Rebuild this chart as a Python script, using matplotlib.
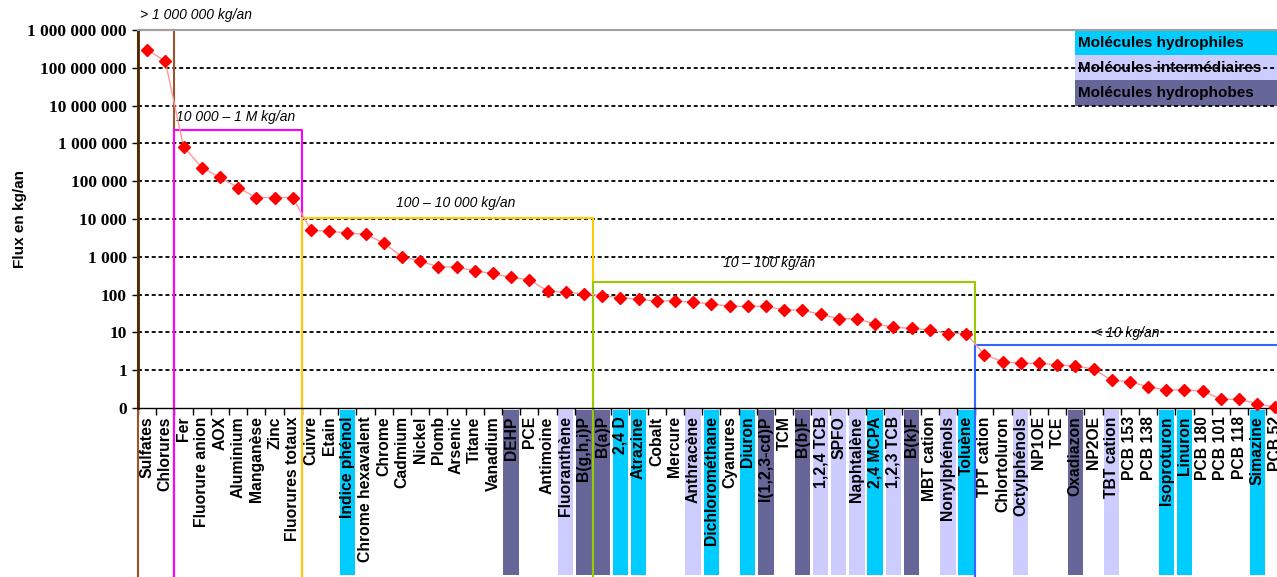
import matplotlib
matplotlib.use("Agg")
from matplotlib import pyplot as plt
from matplotlib.patches import Rectangle
from matplotlib.ticker import NullLocator
import numpy as np

substances = ['Sulfates', 'Chlorures', 'Fer', 'Fluorure anion', 'AOX', 'Aluminium', 'Manganèse', 'Zinc',
              'Fluorures totaux', 'Cuivre', 'Etain', 'Indice phénol', 'Chrome hexavalent', 'Chrome', 'Cadmium',
              'Nickel', 'Plomb', 'Arsenic', 'Titane', 'Vanadium', 'DEHP', 'PCE', 'Antimoine', 'Fluoranthène',
              'B(g,h,i)P', 'B(a)P', '2,4 D', 'Atrazine', 'Cobalt', 'Mercure', 'Anthracène', 'Dichlorométhane',
              'Cyanures', 'Diuron', 'I(1,2,3-cd)P', 'TCM', 'B(b)F', '1,2,4 TCB', 'SPFO', 'Naphtalène', '2,4 MCPA',
              '1,2,3 TCB', 'B(k)F', 'MBT cation', 'Nonylphénols', 'Toluène', 'TPT cation', 'Chlortoluron',
              'Octylphénols', 'NP1OE', 'TCE', 'Oxadiazon', 'NP2OE', 'TBT cation', 'PCB 153', 'PCB 138',
              'Isoproturon', 'Linuron', 'PCB 180', 'PCB 101', 'PCB 118', 'Simazine', 'PCB 52']
flux = [3.0e8, 1.5e8, 8.2e5, 2.3e5, 1.26e5, 6.8e4, 3.7e4, 3.7e4, 3.7e4,
        5.1e3, 4.7e3, 4.3e3, 3.9e3, 2.35e3, 1000, 780, 540, 540, 425, 362, 284, 250, 125, 114, 106,
        94, 83, 75, 68, 68, 63, 57, 49, 49, 49, 39, 39, 30, 23, 23, 16.6, 13.8, 12.7, 11.7, 9.3, 9.3,
        2.6, 1.68, 1.52, 1.52, 1.39, 1.28, 1.08, 0.54, 0.5, 0.36, 0.3, 0.3, 0.28, 0.17, 0.17, 0.13, 0.104]

hydrophiles = ['Indice phénol', '2,4 D', 'Atrazine', 'Dichlorométhane', 'Diuron', '2,4 MCPA', 'Toluène',
               'Isoproturon', 'Linuron', 'Simazine']
intermediaires = ['Fluoranthène', 'Anthracène', '1,2,4 TCB', 'SPFO', 'Naphtalène', '1,2,3 TCB', 'Nonylphénols',
                  'Octylphénols', 'TBT cation']
hydrophobes = ['DEHP', 'B(g,h,i)P', 'B(a)P', 'I(1,2,3-cd)P', 'B(b)F', 'B(k)F', 'Oxadiazon']
legend_labels = ['Molécules hydrophiles', 'Molécules intermédiaires', 'Molécules hydrophobes']

# flux classes: label, first / last substance, upper bound
classes = ['> 1 000 000 kg/an', '10 000 – 1 M kg/an', '100 – 10 000 kg/an', '10 – 100 kg/an', '< 10 kg/an']
class_first = [0, 2, 9, 25, 46]
class_last = [1, 8, 24, 45, 62]
class_top = [1e9, 2.2e6, 1.05e4, 221, 4.7]

yticks = [0.1, 1, 10, 100, 1000, 1e4, 1e5, 1e6, 1e7, 1e8, 1e9]
ytick_labels = ['0', '1', '10', '100', '1 000', '10 000', '100 000', '1 000 000', '10 000 000',
                '100 000 000', '1 000 000 000']

class_colors = ['#A0522D', '#FF00FF', '#FFCC00', '#99CC00', '#3366FF']
group_colors = ['#00CCFF', '#CCCCFF', '#666699']

W, H = 1277, 577
fig = plt.figure(figsize=(W / 100, H / 100), dpi=100)
ax = fig.add_axes([138 / W, 169 / H, 1146.6 / W, 378 / H])
ax.set_yscale('log')
ax.set_ylim(0.1, 1e9)
ax.set_xlim(-0.5, len(substances) - 0.5)

ax.set_yticks(yticks)
ax.set_yticklabels(ytick_labels, family='Liberation Serif', fontweight='bold', fontsize=12.5)
ax.yaxis.set_minor_locator(NullLocator())
ax.tick_params(axis='y', length=4, width=1, pad=4)

x = np.arange(len(substances))
ax.set_xticks(x)
ax.set_xticklabels(substances, rotation=90, family='Liberation Sans', fontweight='bold', fontsize=11.3)
ax.set_xticks(np.arange(-0.5, len(substances), 1), minor=True)
ax.tick_params(axis='x', which='major', length=0, pad=6)
ax.tick_params(axis='x', which='minor', length=5, width=1)

ax.set_ylabel('Flux en kg/an', family='Liberation Sans', fontweight='bold', fontsize=11)
ax.yaxis.set_label_coords(-0.097, 0.5)

ax.spines['right'].set_visible(False)
ax.spines['top'].set_color('#A0A0A0')
ax.spines['top'].set_linewidth(1.5)
ax.spines['left'].set_color('#4D2600')
ax.spines['left'].set_linewidth(2)
ax.spines['bottom'].set_linewidth(1)

# dashed decade lines
for k in range(0, 9):
    ax.axhline(10 ** k, color='black', lw=1.3, ls=(0, (2.2, 1.6)), zorder=1)

# coloured backgrounds behind substance names
trans = ax.get_xaxis_transform()
for i, name in enumerate(substances):
    for group, col in zip([hydrophiles, intermediaires, hydrophobes], group_colors):
        if name in group:
            ax.add_patch(Rectangle((i - 0.42, -0.442), 0.84, 0.437, transform=trans, clip_on=False,
                                   facecolor=col, edgecolor='none', zorder=0))

# legend boxes in the upper right corner
row_h = 0.0667
for j, (lab, col) in enumerate(zip(legend_labels, group_colors)):
    y0 = 1 - (j + 1) * row_h
    ax.add_patch(Rectangle((0.817, y0), 0.2, row_h, transform=ax.transAxes, clip_on=False,
                           facecolor=col, edgecolor='none', zorder=0.5))
    ax.text(0.8195, y0 + row_h / 2, lab, transform=ax.transAxes, va='center', ha='left',
            family='Liberation Sans', fontweight='bold', fontsize=11, zorder=0.6)

# class frames, their sides run down past the names
lmin, lmax = np.log10(0.1), np.log10(1e9)
bottom = -169 / 378
text_x = [-0.39, 1.59, 16.97, 34.17, 53.84]
text_ha = ['left', 'left', 'center', 'center', 'center']
text_dy = [15, 13, 15, 19, 12]
for lab, a, b, top, col, tx, ha, dy in zip(classes, class_first, class_last, class_top, class_colors,
                                            text_x, text_ha, text_dy):
    t = (np.log10(top) - lmin) / (lmax - lmin)
    x0, x1 = a - 0.5, b + 0.5
    ax.plot([x0, x0, x1, x1], [bottom, t, t, bottom], color=col, lw=1.5, transform=trans,
            clip_on=False, zorder=2)
    ax.annotate(lab, (tx, top), xytext=(0, dy), textcoords='offset pixels', ha=ha, va='center',
                family='Liberation Sans', style='italic', fontsize=10, annotation_clip=False)

ax.plot(x, flux, color='#FF9999', lw=1, marker='D', ms=6, mfc='#FF0000', mec='#FF0000',
        zorder=4, clip_on=False)

fig.savefig('out.png', dpi=100)
